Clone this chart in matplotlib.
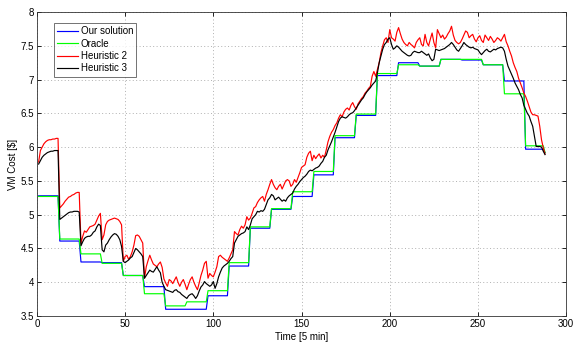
import numpy as np
import matplotlib
matplotlib.use("Agg")
import matplotlib.pyplot as plt

plt.rcParams['font.family'] = ['Liberation Sans', 'DejaVu Sans']

# Time slots (5-minute intervals over one day)
t = np.arange(1, 289)

# Hourly cost levels of the step-wise plans (12 slots per hour)
ours_hourly = [5.28, 4.61, 4.30, 4.29, 4.10, 3.935, 3.60, 3.60, 3.80, 4.24, 4.80, 5.08,
               5.27, 5.59, 6.14, 6.47, 7.06, 7.25, 7.20, 7.30, 7.29, 7.22, 6.98, 5.97]
oracle_hourly = [5.27, 4.64, 4.42, 4.28, 4.10, 3.83, 3.65, 3.71, 3.875, 4.29, 4.82, 5.09,
                 5.34, 5.64, 6.17, 6.49, 7.09, 7.22, 7.20, 7.30, 7.30, 7.22, 6.79, 6.02]
ours_last = 5.92
oracle_last = 5.92

heuristic2 = [
    5.78, 5.95, 6.00, 6.05, 6.08, 6.10, 6.11, 6.11, 6.12, 6.12, 6.13, 6.13,
    5.10, 5.13, 5.16, 5.20, 5.23, 5.26, 5.27, 5.29, 5.30, 5.32, 5.33, 5.33,
    4.58, 4.68, 4.76, 4.74, 4.78, 4.82, 4.83, 4.84, 4.86, 4.92, 4.98, 5.02,
    4.63, 4.70, 4.85, 4.90, 4.92, 4.93, 4.94, 4.95, 4.94, 4.93, 4.90, 4.85,
    4.31, 4.38, 4.40, 4.34, 4.38, 4.45, 4.55, 4.69, 4.70, 4.68, 4.63, 4.58,
    4.06, 4.23, 4.32, 4.40, 4.33, 4.27, 4.25, 4.23, 4.27, 4.30, 4.22, 4.05,
    3.99, 3.94, 4.04, 4.02, 3.98, 4.03, 4.08, 4.00, 3.94, 4.00, 4.04, 3.97,
    3.89, 3.97, 4.04, 4.08, 4.00, 3.94, 3.89, 3.99, 4.10, 4.18, 4.28, 4.31,
    4.06, 4.13, 4.10, 4.08, 4.15, 4.23, 4.38, 4.40, 4.37, 4.35, 4.33, 4.31,
    4.36, 4.42, 4.48, 4.75, 4.72, 4.70, 4.78, 4.83, 4.80, 4.85, 4.97, 4.92,
    4.95, 5.02, 5.10, 5.12, 5.18, 5.22, 5.25, 5.27, 5.20, 5.30, 5.37, 5.45,
    5.52, 5.45, 5.40, 5.37, 5.42, 5.45, 5.38, 5.44, 5.50, 5.52, 5.50, 5.42,
    5.45, 5.52, 5.48, 5.55, 5.62, 5.70, 5.72, 5.74, 5.85, 5.91, 5.94, 5.80,
    5.88, 5.83, 5.87, 5.90, 5.84, 5.88, 5.85, 5.96, 6.08, 6.16, 6.22, 6.26,
    6.32, 6.36, 6.43, 6.48, 6.45, 6.52, 6.56, 6.58, 6.55, 6.62, 6.66, 6.60,
    6.56, 6.64, 6.68, 6.72, 6.75, 6.80, 6.83, 6.87, 6.90, 7.05, 7.12, 7.05,
    7.15, 7.25, 7.40, 7.50, 7.59, 7.62, 7.55, 7.74, 7.62, 7.60, 7.57, 7.70,
    7.77, 7.68, 7.60, 7.55, 7.52, 7.50, 7.55, 7.52, 7.50, 7.47, 7.55, 7.59,
    7.62, 7.52, 7.50, 7.67, 7.55, 7.50, 7.60, 7.69, 7.55, 7.47, 7.74, 7.68,
    7.62, 7.66, 7.60, 7.63, 7.68, 7.72, 7.79, 7.66, 7.58, 7.55, 7.53, 7.55,
    7.60, 7.66, 7.72, 7.70, 7.62, 7.65, 7.67, 7.60, 7.56, 7.62, 7.65, 7.58,
    7.55, 7.66, 7.62, 7.58, 7.64, 7.60, 7.55, 7.58, 7.62, 7.60, 7.57, 7.62,
    7.67, 7.56, 7.50, 7.42, 7.35, 7.25, 7.18, 7.12, 7.02, 6.95, 6.88, 6.80,
    6.75, 6.68, 6.60, 6.52, 6.48, 6.48, 6.47, 6.46, 6.31, 6.11, 5.99, 5.90,
]

heuristic3 = [
    5.75, 5.80, 5.85, 5.88, 5.90, 5.92, 5.93, 5.94, 5.94, 5.95, 5.95, 5.95,
    4.93, 4.95, 4.97, 4.99, 5.01, 5.03, 5.04, 5.04, 5.05, 5.05, 5.05, 5.04,
    4.54, 4.60, 4.65, 4.67, 4.68, 4.68, 4.70, 4.74, 4.76, 4.82, 4.86, 4.84,
    4.48, 4.45, 4.55, 4.58, 4.63, 4.67, 4.70, 4.72, 4.71, 4.68, 4.63, 4.53,
    4.31, 4.29, 4.31, 4.33, 4.36, 4.38, 4.44, 4.50, 4.48, 4.45, 4.42, 4.38,
    4.06, 4.10, 4.14, 4.18, 4.16, 4.15, 4.19, 4.23, 4.18, 4.14, 4.00, 3.94,
    3.89, 3.88, 3.87, 3.86, 3.85, 3.88, 3.89, 3.86, 3.85, 3.82, 3.80, 3.78,
    3.76, 3.80, 3.82, 3.83, 3.80, 3.76, 3.80, 3.87, 3.93, 3.96, 4.01, 3.98,
    3.96, 3.94, 3.96, 4.01, 3.91, 3.98, 4.08, 4.15, 4.21, 4.24, 4.26, 4.28,
    4.31, 4.35, 4.38, 4.58, 4.63, 4.68, 4.70, 4.72, 4.73, 4.75, 4.82, 4.78,
    4.85, 4.94, 4.97, 5.00, 5.05, 5.04, 5.06, 5.05, 5.08, 5.15, 5.22, 5.25,
    5.30, 5.28, 5.22, 5.24, 5.26, 5.23, 5.20, 5.22, 5.20, 5.25, 5.28, 5.30,
    5.32, 5.38, 5.42, 5.45, 5.49, 5.52, 5.55, 5.57, 5.60, 5.64, 5.66, 5.65,
    5.67, 5.69, 5.70, 5.72, 5.76, 5.79, 5.85, 5.88, 5.96, 6.02, 6.08, 6.15,
    6.22, 6.30, 6.38, 6.43, 6.45, 6.44, 6.43, 6.45, 6.48, 6.50, 6.51, 6.54,
    6.58, 6.62, 6.66, 6.70, 6.73, 6.78, 6.82, 6.85, 6.88, 6.92, 6.95, 6.98,
    7.10, 7.25, 7.35, 7.45, 7.52, 7.55, 7.60, 7.62, 7.52, 7.45, 7.47, 7.50,
    7.48, 7.45, 7.42, 7.40, 7.38, 7.36, 7.35, 7.36, 7.40, 7.42, 7.41, 7.40,
    7.40, 7.42, 7.40, 7.38, 7.36, 7.38, 7.32, 7.28, 7.30, 7.45, 7.44, 7.43,
    7.44, 7.45, 7.46, 7.48, 7.50, 7.52, 7.55, 7.52, 7.48, 7.44, 7.42, 7.46,
    7.50, 7.55, 7.52, 7.50, 7.48, 7.47, 7.48, 7.46, 7.45, 7.44, 7.40, 7.37,
    7.40, 7.43, 7.45, 7.42, 7.41, 7.43, 7.45, 7.44, 7.46, 7.47, 7.48, 7.47,
    7.42, 7.30, 7.20, 7.14, 7.08, 7.02, 6.95, 6.90, 6.85, 6.78, 6.73, 6.62,
    6.56, 6.50, 6.46, 6.38, 6.31, 6.16, 6.01, 6.01, 6.01, 6.00, 5.94, 5.89,
]

x_ticks = [0, 50, 100, 150, 200, 250, 300]
y_ticks = [3.5, 4, 4.5, 5, 5.5, 6, 6.5, 7, 7.5, 8]

ours = np.repeat(ours_hourly, 12)
oracle = np.repeat(oracle_hourly, 12)
ours[-1] = ours_last
oracle[-1] = oracle_last

fig = plt.figure(figsize=(5.76, 3.45), dpi=100)
ax = fig.add_axes([0.064, 0.084, 0.919, 0.881])

lw = 0.85
ax.plot(t, ours, color=(0, 0, 1), lw=lw, label='Our solution')
ax.plot(t, oracle, color=(0, 1, 0), lw=lw, label='Oracle')
ax.plot(t, heuristic2, color=(1, 0, 0), lw=lw, label='Heuristic 2')
ax.plot(t, heuristic3, color=(0, 0, 0), lw=lw, label='Heuristic 3')

ax.set_xlim(0, 300)
ax.set_ylim(3.5, 8)
ax.set_xticks(x_ticks)
ax.set_yticks(y_ticks)
ax.set_yticklabels([f'{v:g}' for v in y_ticks])
ax.tick_params(direction='in', length=3, labelsize=7, width=0.6, pad=2,
               top=True, right=True)
ax.grid(True, linestyle=(0, (1, 2.5)), color='#b0b0b0', lw=0.7)
for s in ax.spines.values():
    s.set_linewidth(0.6)
    s.set_color('#333333')

ax.set_xlabel('Time [5 min]', fontsize=7, labelpad=2)
ax.set_ylabel('VM Cost [\\$]', fontsize=7, labelpad=2)

leg = ax.legend(loc='upper left', bbox_to_anchor=(0.032, 0.965), fontsize=7,
                frameon=True, fancybox=False, handlelength=2.1, handletextpad=0.3,
                borderpad=0.35, labelspacing=0.25, borderaxespad=0)
leg.get_frame().set_edgecolor('#333333')
leg.get_frame().set_linewidth(0.6)

fig.savefig('out.png', dpi=100)
